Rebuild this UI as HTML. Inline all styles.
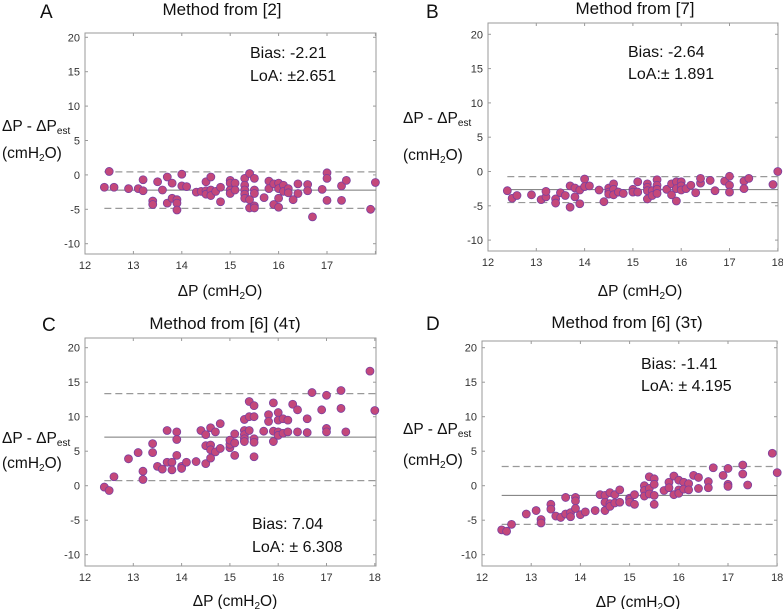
<!DOCTYPE html>
<html><head><meta charset="utf-8">
<style>
html,body{margin:0;padding:0;background:#fff;}
svg{display:block;font-family:"Liberation Sans",sans-serif;}
.t{font-size:15.5px;fill:#111;}
.ttl{font-size:17px;fill:#111;}
.tk{font-size:11px;fill:#333;}
.lab{font-size:15.5px;fill:#111;}
.big{font-size:19px;fill:#111;}
</style></head>
<body>
<svg id="fig" width="783" height="609" viewBox="0 0 783 609" xmlns="http://www.w3.org/2000/svg"></svg>
<script>
const xTicks=[12,13,14,15,16,17,18];
const yTicks=[20,15,10,5,0,-5,-10];
const xA=[12.4,12.5,12.6,12.9,13.1,13.2,13.2,13.4,13.4,13.5,13.6,13.7,13.7,13.8,13.8,13.9,13.9,13.9,14,14,14.1,14.3,14.4,14.5,14.5,14.5,14.6,14.6,14.6,14.7,14.8,14.8,15,15,15,15,15.1,15.1,15.3,15.3,15.3,15.3,15.3,15.4,15.4,15.4,15.5,15.5,15.5,15.5,15.5,15.7,15.8,15.8,15.9,15.9,16,16,16,16,16.1,16.1,16.2,16.2,16.3,16.4,16.4,16.6,16.6,16.7,16.9,17,17,17,17.3,17.3,17.4,17.9,18];
const yA=[-1.8,0.5,-1.8,-2,-2,-0.7,-2.3,-3.8,-4.3,-1,-2.2,-0.3,-4.1,-1.2,-3.4,-3.6,-4.1,-5.1,0.1,-1.6,-1.7,-2.5,-2.4,-2.3,-2.8,-1,-0.3,-2.2,-3,-2.4,-1.8,-3.9,-0.8,-1.2,-2.2,-2.7,-1.2,-2.2,-0.5,-1.5,-2.2,-2.8,-3.4,0.2,-3.6,-4.8,-0.5,-2.2,-2.7,-4.5,-4.8,-3.3,-0.9,-2,-1.3,-4.3,-1.2,-2,-3.4,-4.7,-1.5,-2.4,-2,-2.6,-3.6,-1.3,-2.7,-1.4,-2.3,-6.1,-2.1,0.3,-0.5,-3.7,-1.6,-3.7,-0.8,-5,-1.1];
const xB=[12.4,12.5,12.6,12.9,13.1,13.2,13.2,13.4,13.4,13.5,13.6,13.7,13.7,13.8,13.8,13.9,13.9,14,14,14.1,14.3,14.4,14.5,14.5,14.5,14.6,14.6,14.6,14.7,14.8,15,15,15.1,15.1,15.3,15.3,15.3,15.3,15.4,15.4,15.5,15.5,15.5,15.5,15.7,15.8,15.8,15.9,15.9,15.9,16,16,16,16.1,16.2,16.3,16.4,16.4,16.6,16.7,16.9,17,17,17,17.3,17.3,17.4,17.9,18];
const yB=[-2.8,-3.9,-3.5,-3.4,-4.1,-3.7,-2.9,-4,-4.6,-3.1,-3.5,-2.1,-5.2,-2.4,-3.7,-2.7,-4.7,-1.1,-2.2,-2.1,-2.7,-4.4,-2.4,-3,-3.3,-1.8,-2.6,-3.4,-3,-3.2,-2.6,-3,-1.5,-3,-1.8,-2.3,-2.8,-4,-2.8,-3.5,-1.2,-2,-2.6,-3.2,-2.6,-1.8,-3.4,-1.5,-2.5,-4.3,-1.5,-2.1,-2.7,-2.5,-2,-3.1,-1.7,-1,-1.3,-2.8,-1.4,-0.7,-2,-3,-1.4,-2.5,-1,-1.9,0];
const xC=[12.4,12.5,12.6,12.9,13.1,13.2,13.2,13.4,13.4,13.5,13.6,13.7,13.7,13.8,13.8,13.9,13.9,13.9,14,14,14.1,14.3,14.4,14.5,14.5,14.5,14.6,14.6,14.6,14.6,14.7,14.7,14.8,14.8,15,15,15,15.1,15.1,15.1,15.3,15.3,15.3,15.3,15.3,15.4,15.4,15.4,15.5,15.5,15.5,15.5,15.5,15.7,15.8,15.8,15.9,15.9,15.9,16,16,16,16,16.1,16.1,16.2,16.2,16.3,16.4,16.4,16.6,16.6,16.7,16.9,17,17,17,17.3,17.3,17.4,17.9,18];
const yC=[-0.2,-0.7,1.3,3.9,4.8,2.1,0.9,6.1,4.8,2.8,2.4,8,3.4,3.4,2.3,7.8,6.7,4.4,2.8,2.5,3.4,3.5,8,7.4,5.8,3.2,8.4,5.9,5.2,4,7.8,4.9,9,5.4,5.5,6,6.6,7.5,6.2,4.4,9.6,8,7.4,6.8,6.4,12.2,10,8,11.6,10,6.8,6.3,4.2,7.9,10.3,9.3,12,7.9,6.4,10.6,9.5,7.8,7.3,9.7,7.6,9.5,7.8,11.8,11,7.8,9.7,7.7,13.5,11,13.1,8.3,7.8,13.8,11.2,7.8,16.6,10.9];
const xD=[12.4,12.5,12.6,12.9,13.1,13.2,13.2,13.4,13.4,13.5,13.6,13.7,13.7,13.8,13.8,13.9,13.9,13.9,14,14.1,14.3,14.4,14.5,14.5,14.5,14.6,14.6,14.6,14.7,14.7,14.8,14.8,15,15,15,15.1,15.1,15.3,15.3,15.3,15.4,15.4,15.4,15.5,15.5,15.5,15.5,15.7,15.8,15.8,15.9,15.9,16,16,16,16.1,16.1,16.2,16.2,16.3,16.4,16.4,16.6,16.6,16.7,16.9,17,17,17,17.3,17.3,17.4,17.9,18];
const yD=[-6.4,-6.6,-5.6,-4.1,-3.6,-4.9,-5.4,-2.7,-3.4,-4.4,-4.6,-1.7,-4.1,-3.9,-4.5,-1.7,-2.2,-3.3,-4.2,-3.8,-3.6,-1.3,-1.4,-2.4,-3.6,-1,-2.6,-3,-1.3,-2.5,-0.6,-2.4,-1.8,-2,-2.4,-1.3,-2.7,0,-0.7,-1.5,1.3,-0.4,-1.2,1,0.2,-1.4,-2.7,-0.7,0.5,-0.3,1.4,-1.3,0.8,-0.6,-1.1,0.5,-0.5,0.3,-0.6,1.5,1.2,-0.4,0.6,-0.3,2.6,1.5,2.5,0.2,-0.1,3,1.7,0.1,4.7,1.9];
const biases=[-2.21,-2.64,7.04,-1.41];
const loas=[2.651,1.891,6.308,4.195];
const loaPrefix=["LoA: \u00B1","LoA:\u00B1 ","LoA: \u00B1 ","LoA: \u00B1 "];
const titles=["Method from [2]","Method from [7]","Method from [6] (4\u03C4)","Method from [6] (3\u03C4)"];
const letters=["A","B","C","D"];

const NS="http://www.w3.org/2000/svg";
const svg=document.getElementById('fig');
function mk(tag,attrs,parent){const e=document.createElementNS(NS,tag);for(const k in attrs)e.setAttribute(k,attrs[k]);(parent||svg).appendChild(e);return e;}

const P=[
 {L:85,R:376,T:33,B:254,x12:85,xu:48.4,y20:37.3,yu:6.88,lx:40,ly:18,tx:222,ty:15,ann:[250,58,81],yl:[2,131,158],xl:[220,296]},
 {L:488,R:778,T:23,B:251,x12:488,xu:48.3,y20:34.3,yu:6.86,lx:426,ly:18,tx:635,ty:14,ann:[628,57,79],yl:[403,123,160],xl:[640,296]},
 {L:85,R:376,T:338,B:566,x12:85,xu:48.3,y20:347.7,yu:6.9,lx:42,ly:331,tx:225,ty:329,ann:[252,529,552],yl:[2,443,468],xl:[235,606]},
 {L:482,R:777,T:341,B:566,x12:482,xu:49.2,y20:347.7,yu:6.9,lx:426,ly:330,tx:627,ty:328,ann:[641,369,391],yl:[403,434,465],xl:[638,607]}
];
const XS=[xA,xB,xC,xD], YS=[yA,yB,yC,yD];

P.forEach((p,i)=>{
  const g=mk('g',{});
  
  
  const sx=v=>p.x12+(v-12)*p.xu, sy=v=>p.y20+(20-v)*p.yu;
  const box=mk('rect',{x:p.L,y:p.T,width:p.R-p.L,height:p.B-p.T,fill:'none',stroke:'#9a9a9a','stroke-width':1},g);
  
  
  xTicks.forEach(t=>{
    const X=sx(t); if(X>p.R+1)return;
    mk('line',{x1:X,x2:X,y1:p.B,y2:p.B-3,stroke:'#9a9a9a'},g);
    mk('line',{x1:X,x2:X,y1:p.T,y2:p.T+3,stroke:'#9a9a9a'},g);
    if(i===0&&t===18)return;
    const tx=mk('text',{x:X,y:p.B+15,'text-anchor':'middle',class:'tk'},g);
    tx.textContent=t;
    
    
  });
  yTicks.forEach(t=>{
    const Y=sy(t);
    mk('line',{x1:p.L,x2:p.L+3,y1:Y,y2:Y,stroke:'#9a9a9a'},g);
    mk('line',{x1:p.R,x2:p.R-3,y1:Y,y2:Y,stroke:'#9a9a9a'},g);
    const tx=mk('text',{x:p.L-5,y:Y+4,'text-anchor':'end',class:'tk'},g);
    tx.textContent=t;
    
    
  });
  const x0=sx(12.4);
  const bl=mk('line',{x1:x0,x2:p.R,y1:sy(biases[i]),y2:sy(biases[i]),stroke:'#777','stroke-width':1},g);
  
  
  [biases[i]+loas[i],biases[i]-loas[i]].forEach(v=>{
    const l=mk('line',{x1:x0,x2:p.R,y1:sy(v),y2:sy(v),stroke:'#999','stroke-width':1.2,'stroke-dasharray':'7,4'},g);
    
    
  });
  XS[i].forEach((xv,k)=>{
    const c=mk('circle',{cx:sx(xv),cy:sy(YS[i][k]),r:4,fill:'#c4487a',stroke:'#7a3fa0','stroke-width':0.8},g);
    
    
  });
  const le=mk('text',{x:p.lx,y:p.ly,class:'big'},g); le.textContent=letters[i];
  
  
  const ti=mk('text',{x:p.tx,y:p.ty,'text-anchor':'middle',class:'ttl'},g); ti.textContent=titles[i];
  
  
  const a1=mk('text',{x:p.ann[0],y:p.ann[1],class:'t',style:'font-size:16px'},g); a1.textContent='Bias: '+biases[i].toFixed(2);
  
  
  const a2=mk('text',{x:p.ann[0],y:p.ann[2],class:'t',style:'font-size:16px'},g); a2.textContent=loaPrefix[i]+loas[i].toFixed(3);
  
  
  const y1=mk('text',{x:p.yl[0],y:p.yl[1],class:'lab'},g);
  y1.innerHTML='ΔP - ΔP<tspan font-size="10" dy="3">est</tspan>';
  
  
  const y2=mk('text',{x:p.yl[0],y:p.yl[2],class:'lab'},g);
  y2.innerHTML='(cmH<tspan font-size="10" dy="3">2</tspan><tspan dy="-3">O)</tspan>';
  
  
  const xl=mk('text',{x:p.xl[0],y:p.xl[1],'text-anchor':'middle',class:'lab'},g);
  xl.innerHTML='ΔP (cmH<tspan font-size="10" dy="3">2</tspan><tspan dy="-3">O)</tspan>';
  
  
});
</script>
</body></html>
